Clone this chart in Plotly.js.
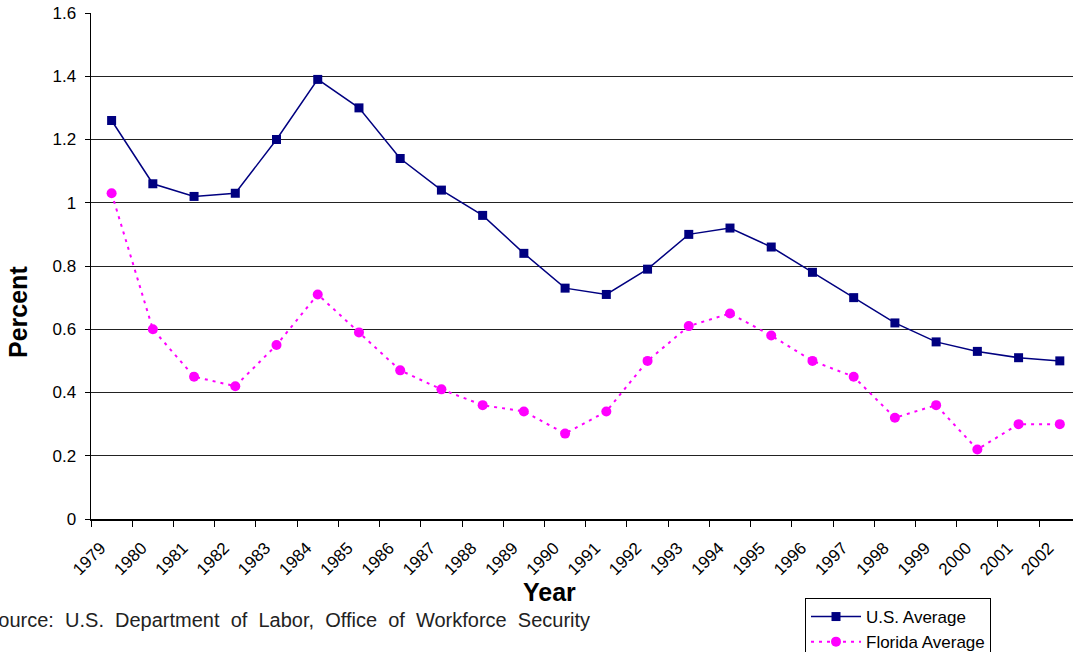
<!DOCTYPE html>
<html>
<head>
<meta charset="utf-8">
<script src="https://cdn.plot.ly/plotly-3.0.1.min.js"></script>
<style>html,body{margin:0;padding:0;background:#fff;}#chart{width:1073px;height:652px;}</style>
</head>
<body>
<div id="chart"></div>
<script>
const years = ["1979","1980","1981","1982","1983","1984","1985","1986","1987","1988","1989","1990","1991","1992","1993","1994","1995","1996","1997","1998","1999","2000","2001","2002"];
const usAverage = [1.26,1.06,1.02,1.03,1.20,1.39,1.30,1.14,1.04,0.96,0.84,0.73,0.71,0.79,0.90,0.92,0.86,0.78,0.70,0.62,0.56,0.53,0.51,0.50];
const floridaAverage = [1.03,0.60,0.45,0.42,0.55,0.71,0.59,0.47,0.41,0.36,0.34,0.27,0.34,0.50,0.61,0.65,0.58,0.50,0.45,0.32,0.36,0.22,0.30,0.30];
const yTicks = [0,0.2,0.4,0.6,0.8,1,1.2,1.4,1.6];
const yTickText = ["0","0.2","0.4","0.6","0.8","1","1.2","1.4","1.6"];

const font = "Liberation Sans, Arial, sans-serif";

const traces = [
  {
    x: years, y: usAverage, name: "U.S. Average", type: "scatter", mode: "lines+markers",
    line: {color: "#000080", width: 1.5},
    marker: {symbol: "square", size: 9, color: "#000080"}
  },
  {
    x: years, y: floridaAverage, name: "Florida Average", type: "scatter", mode: "lines+markers",
    line: {color: "#FF00FF", width: 2, dash: "3px,5px"},
    marker: {symbol: "circle", size: 10, color: "#FF00FF"}
  }
];

const layout = {
  width: 1073, height: 652,
  margin: {l: 91, r: 0, t: 13, b: 133, autoexpand: false},
  paper_bgcolor: "#fff", plot_bgcolor: "#fff",
  font: {family: font, color: "#000", size: 16},
  showlegend: true,
  legend: {
    x: (805-91)/982, xanchor: "left", y: (519-598)/506, yanchor: "top",
    bordercolor: "#000", borderwidth: 1, bgcolor: "#fff",
    font: {family: font, size: 17, color: "#000"},
    itemwidth: 50
  },
  xaxis: {
    type: "category",
    range: [-0.5, 23.32],
    automargin: false,
    tickson: "boundaries",
    ticks: "outside", ticklen: 6, tickcolor: "#000", tickwidth: 1,
    showline: true, linecolor: "#000", linewidth: 1.5,
    showgrid: false, zeroline: false,
    tickangle: -45,
    ticklabelstandoff: 11,
    ticklabelshift: -11,
    tickfont: {family: font, size: 17, color: "#000"}
  },
  yaxis: {
    range: [0, 1.6],
    automargin: false,
    tickmode: "array", tickvals: yTicks, ticktext: yTickText,
    ticks: "outside", ticklen: 5, tickcolor: "#000",
    ticklabelstandoff: 5,
    showline: true, linecolor: "#000", linewidth: 1.5,
    showgrid: true, gridcolor: "#222", gridwidth: 1,
    zeroline: false,
    tickfont: {family: font, size: 17, color: "#000"}
  },
  annotations: [
    {text: "<b>Year</b>", xref: "paper", yref: "paper", x: (549-91)/982, y: (519-592)/506,
     xanchor: "center", yanchor: "middle", showarrow: false, font: {family: font, size: 25, color: "#000"}},
    {text: "<b>Percent</b>", xref: "paper", yref: "paper", x: (18-91)/982, y: (519-312)/506,
     xanchor: "center", yanchor: "middle", textangle: -90, showarrow: false, font: {family: font, size: 25, color: "#000"}},
    {text: "Source:  U.S.  Department  of  Labor,  Office  of  Workforce  Security", xref: "paper", yref: "paper",
     x: (592-91)/982, y: (519-620)/506, xanchor: "right", yanchor: "middle", showarrow: false,
     font: {family: font, size: 20, color: "#222"}}
  ]
};

Plotly.newPlot("chart", traces, layout, {displayModeBar: false, staticPlot: true});
</script>
</body>
</html>
